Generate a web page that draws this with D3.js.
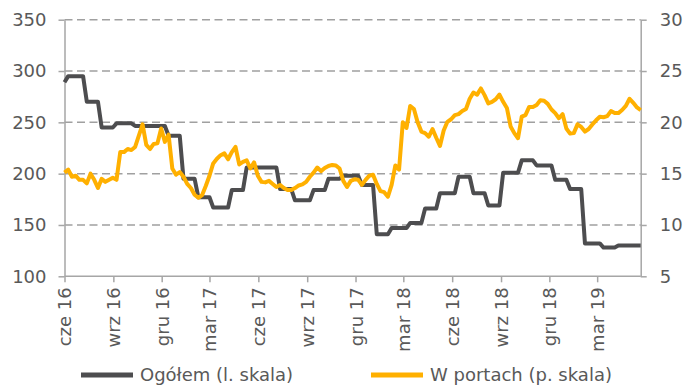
<!DOCTYPE html>
<html>
<head>
<meta charset="utf-8">
<script src="https://cdn.jsdelivr.net/npm/d3@7"></script>
<style>
  html, body { margin: 0; padding: 0; background: #fff; }
  svg { display: block; font-family: "DejaVu Sans", Verdana, sans-serif; }
</style>
</head>
<body>
<svg id="chart" width="697" height="385"></svg>
<script>
// Weekly observations, starting on the first week of June 2016
const startDate = new Date(2016, 5, 1);

// Ogółem – left scale
const ogolem = [
  289,
  295, 295, 295, 295, 295,
  270, 270, 270, 270,
  245, 245, 245, 245,
  249, 249, 249, 249, 249,
  246.5, 246.5, 246.5, 246.5, 246.5, 246.5, 246.5, 246.5, 246.5,
  237, 237, 237, 237,
  195, 195, 195, 195,
  177, 177, 177, 177,
  167, 167, 167, 167, 167,
  184, 184, 184, 184,
  206, 206, 206, 206, 206, 206, 206, 206, 206,
  185, 185, 185, 185,
  174, 174, 174, 174, 174,
  184, 184, 184, 184,
  195, 195, 195, 195,
  198, 198, 198, 198, 198,
  189, 189, 189, 189,
  141, 141, 141, 141,
  147, 147, 147, 147, 147,
  152, 152, 152, 152,
  166, 166, 166, 166,
  181, 181, 181, 181, 181,
  197, 197, 197, 197,
  181, 181, 181, 181,
  169, 169, 169, 169,
  201, 201, 201, 201, 201,
  213, 213, 213, 213,
  208, 208, 208, 208, 208,
  194, 194, 194, 194,
  185, 185, 185, 185,
  132, 132, 132, 132, 132,
  128, 128, 128, 128,
  130, 130, 130, 130, 130, 130, 130
];

// W portach – right scale
const wPortach = [
  15.1, 15.4, 14.7, 14.8, 14.4, 14.4, 14.05, 15.0, 14.4, 13.6,
  14.5, 14.2, 14.4, 14.6, 14.4, 17.1, 17.1, 17.4, 17.3, 17.6,
  18.7, 19.8, 17.8, 17.4, 17.9, 17.95, 19.4, 18.1, 18.8, 15.5,
  14.9, 15.15, 14.7, 14.0, 13.6, 12.95, 12.65, 12.9, 13.8, 14.8,
  16.0, 16.45, 16.8, 16.98, 16.4, 17.1, 17.6, 15.9, 16.15, 16.3,
  15.5, 16.1, 14.8, 14.2, 14.15, 14.3, 14.0, 13.7, 13.9, 13.6,
  13.4, 13.4, 13.6, 13.85, 13.95, 14.2, 14.7, 15.1, 15.6, 15.25,
  15.55, 15.75, 15.85, 15.8, 15.5, 14.3, 13.7, 14.3, 14.45, 14.4,
  13.9, 14.4, 14.8, 14.9, 14.0, 13.3, 13.2, 12.75, 13.9, 15.8,
  15.4, 20.0, 19.45, 21.6, 21.3, 20.0, 19.1, 18.95, 18.6, 19.35,
  18.5, 17.7, 19.2, 20.05, 20.3, 20.7, 20.8, 21.1, 21.3, 22.3,
  22.9, 22.7, 23.3, 22.65, 21.85, 22.0, 22.25, 22.7, 22.0, 21.4,
  19.6, 18.95, 18.45, 20.55, 20.7, 21.5, 21.5, 21.7, 22.15, 22.1,
  21.8, 21.25, 20.9, 20.4, 20.8, 19.4, 18.9, 18.95, 19.8, 19.55,
  19.1, 19.35, 19.8, 20.2, 20.55, 20.5, 20.6, 21.1, 20.9, 20.9,
  21.2, 21.6, 22.3, 21.9, 21.45, 21.2
];

const leftTicks = [100, 150, 200, 250, 300, 350];
const rightTicks = [5, 10, 15, 20, 25, 30];
const monthNames = ["sty", "lut", "mar", "kwi", "maj", "cze", "lip", "sie", "wrz", "paź", "lis", "gru"];
const seriesNames = ["Ogółem (l. skala)", "W portach (p. skala)"];
const seriesColors = ["#4d4d4f", "#ffb000"];

const dates = ogolem.map((_, i) => d3.timeDay.offset(startDate, 7 * i));
const quarterTicks = d3.timeMonth.range(new Date(2016, 5, 1), new Date(2019, 5, 1), 3);

const svg = d3.select("#chart");
const plot = { left: 64.5, right: 640.7, top: 19.7, bottom: 276.3 };

const x = d3.scaleTime()
  .domain([dates[0], dates[dates.length - 1]])
  .range([plot.left, plot.right]);
const yL = d3.scaleLinear().domain([100, 350]).range([plot.bottom, plot.top]);
const yR = d3.scaleLinear().domain([5, 30]).range([plot.bottom, plot.top]);

const labelColor = "#595959";
const axisColor = "#a6a6a6";

// dashed horizontal gridlines
svg.append("g")
  .selectAll("line")
  .data(leftTicks.filter(v => v > 100))
  .join("line")
  .attr("x1", plot.left).attr("x2", plot.right)
  .attr("y1", d => yL(d)).attr("y2", d => yL(d))
  .attr("stroke", "#a0a0a0")
  .attr("stroke-width", 1.5)
  .attr("stroke-dasharray", "8,4.5");

function styleAxis(g) {
  g.selectAll(".domain").attr("stroke", axisColor).attr("stroke-width", 1.5);
  g.selectAll(".tick line").attr("stroke", axisColor).attr("stroke-width", 1.5);
  g.selectAll(".tick text")
    .attr("fill", labelColor)
    .attr("font-size", 18)
    .attr("font-family", "DejaVu Sans, Verdana, sans-serif");
}

// left axis
svg.append("g")
  .attr("transform", `translate(${plot.left},0)`)
  .call(d3.axisLeft(yL).tickValues(leftTicks).tickSize(6).tickSizeOuter(0).tickPadding(12))
  .call(styleAxis);

// right axis
svg.append("g")
  .attr("transform", `translate(${plot.right},0)`)
  .call(d3.axisRight(yR).tickValues(rightTicks).tickSize(6).tickSizeOuter(0).tickPadding(13))
  .call(styleAxis);

// bottom axis with rotated quarter labels
const xAxis = svg.append("g")
  .attr("transform", `translate(0,${plot.bottom})`)
  .call(d3.axisBottom(x)
    .tickValues(quarterTicks)
    .tickSize(6)
    .tickSizeOuter(0)
    .tickFormat(d => monthNames[d.getMonth()] + " " + String(d.getFullYear()).slice(2)))
  .call(styleAxis);
xAxis.select(".domain").attr("d", `M${plot.left},0H${plot.right}`);
xAxis.selectAll(".tick text")
  .attr("text-anchor", "end")
  .attr("transform", "rotate(-90)")
  .attr("x", -11)
  .attr("y", 0)
  .attr("dy", "0.36em");

// series lines
const lineL = d3.line().x((d, i) => x(dates[i])).y(d => yL(d));
const lineR = d3.line().x((d, i) => x(dates[i])).y(d => yR(d));

svg.append("path")
  .datum(ogolem)
  .attr("d", lineL)
  .attr("fill", "none")
  .attr("stroke", seriesColors[0])
  .attr("stroke-width", 4)
  .attr("stroke-linejoin", "round");

svg.append("path")
  .datum(wPortach)
  .attr("d", lineR)
  .attr("fill", "none")
  .attr("stroke", seriesColors[1])
  .attr("stroke-width", 4)
  .attr("stroke-linejoin", "round");

// legend
const legend = svg.append("g").attr("transform", "translate(0,375)");
const legendItems = [
  { x: 81, name: seriesNames[0], color: seriesColors[0] },
  { x: 371, name: seriesNames[1], color: seriesColors[1] }
];
legendItems.forEach(item => {
  legend.append("line")
    .attr("x1", item.x).attr("x2", item.x + 52)
    .attr("y1", 0).attr("y2", 0)
    .attr("stroke", item.color)
    .attr("stroke-width", 5);
  legend.append("text")
    .attr("x", item.x + 59)
    .attr("y", 0)
    .attr("dy", "0.36em")
    .attr("fill", labelColor)
    .attr("font-size", 18)
    .text(item.name);
});
</script>
</body>
</html>
